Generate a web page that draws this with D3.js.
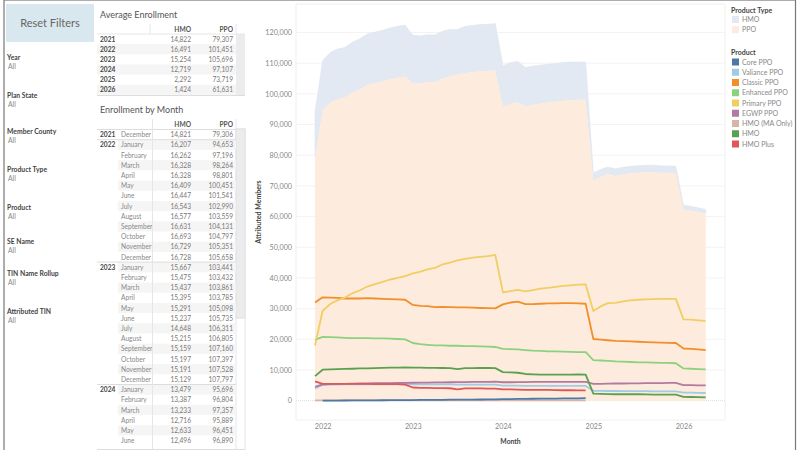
<!DOCTYPE html>
<html>
<head>
<meta charset="utf-8">
<script src="https://cdn.jsdelivr.net/npm/d3@7"></script>
<style>
  html, body { margin: 0; padding: 0; background: #fff; overflow: hidden; }
  text { font-family: Lato, "Open Sans", sans-serif; }
</style>
</head>
<body>
<svg id="chart" width="800" height="450"></svg>
<script>
// values
var months = [
  "2021-12",
  "2022-01","2022-02","2022-03","2022-04","2022-05","2022-06","2022-07","2022-08","2022-09","2022-10","2022-11","2022-12",
  "2023-01","2023-02","2023-03","2023-04","2023-05","2023-06","2023-07","2023-08","2023-09","2023-10","2023-11","2023-12",
  "2024-01","2024-02","2024-03","2024-04","2024-05","2024-06","2024-07","2024-08","2024-09","2024-10","2024-11","2024-12",
  "2025-01","2025-02","2025-03","2025-04","2025-05","2025-06","2025-07","2025-08","2025-09","2025-10","2025-11","2025-12",
  "2026-01","2026-02","2026-03","2026-04"
];
var hmoTotal = [
  14821,
  16207,16262,16328,16328,16409,16447,16543,16577,16631,16693,16729,16728,
  15667,15475,15437,15395,15291,15237,14648,15215,15159,15197,15191,15129,
  13479,13387,13233,12716,12633,12496,12450,12430,12400,12380,12360,12350,
  2500,2400,2300,2300,2300,2280,2270,2250,2250,2240,2230,2220,
  1500,1450,1400,1350
];
var ppoTotal = [
  79306,
  94653,97196,98264,98801,100451,101541,102990,103559,104131,104797,105351,105658,
  103441,103432,103861,103785,105098,105735,106311,106805,107160,107397,107528,107797,
  95696,96804,97357,95889,96451,96890,97200,97500,97800,98000,98050,98050,
  71730,73000,73850,73270,73800,74100,74300,74500,74500,74300,74300,74200,
  62200,61900,61500,61000
];
var corePpo = [
  null,
  0,20,40,60,70,90,100,120,130,150,170,190,
  210,230,250,270,290,310,330,350,370,390,410,430,
  500,530,560,590,620,650,680,700,730,750,780,800
];
var valiancePpo = [
  4000,
  5100,5200,5250,5300,5300,5300,5350,5350,5350,5350,5350,5350,
  5300,5300,5300,5300,5300,5300,5250,5250,5250,5250,5200,5200,
  4900,4900,4900,4850,4850,4850,4850,4850,4800,4800,4800,4800,
  3200,3200,3150,3150,3100,3100,3100,3100,3050,3050,3000,3000,
  2600,2600,2550,2500
];
var classicPpo = [
  32000,
  33700,33600,33500,33300,33300,33300,33400,33300,33200,33100,33000,32900,
  31200,30900,30800,30500,30600,30500,30400,30400,30300,30200,30150,30100,
  31400,32000,32300,31500,31500,31600,31700,31700,31800,31800,31700,31600,
  20100,19900,19700,19500,19400,19300,19200,19100,19000,18900,18850,18800,
  17000,16900,16700,16500
];
var enhancedPpo = [
  19800,
  20800,20700,20600,20500,20400,20400,20400,20300,20300,20200,20100,20000,
  18800,18400,18200,18000,18000,17900,17900,17800,17800,17700,17600,17500,
  16900,16800,16700,16500,16300,16200,16100,16050,16000,15900,15850,15800,
  13200,13100,13000,12800,12700,12600,12500,12500,12400,12300,12300,12200,
  10500,10400,10300,10200
];
var primaryPpo = [
  18000,
  29300,31500,32700,33600,35000,36000,37200,38000,38700,39500,40000,40600,
  41500,42100,42800,43300,44400,45000,45700,46200,46600,46900,47100,47500,
  35300,35700,36100,35600,36000,36500,36800,37100,37400,37600,37800,37900,
  29200,30800,31800,31900,32400,32700,32900,33000,33100,33200,33200,33200,
  26500,26400,26200,26000
];
var egwpPpo = [
  4500,
  5300,5400,5450,5500,5550,5600,5650,5700,5750,5750,5800,5800,
  5850,5900,5900,5950,5950,6000,6050,6050,6100,6150,6150,6200,
  6000,6000,6050,6050,6100,6100,6150,6150,6100,6100,6100,6100,
  5500,5500,5550,5600,5600,5650,5650,5700,5700,5750,5800,5800,
  5100,5050,5000,5000
];
var hmoMaOnly = [
  100,
  100,100,100,100,100,100,100,100,100,100,100,100,
  100,100,100,100,100,100,100,100,100,100,100,100,
  100,100,100,100,100,100,100,100,100,100,100,100
];
var hmoBase = [
  8000,
  10100,10200,10300,10350,10400,10500,10550,10600,10700,10750,10800,10850,
  10800,10750,10700,10700,10650,10600,10300,10600,10600,10650,10650,10600,
  9300,9200,9100,8700,8600,8500,8500,8500,8500,8500,8600,8500,
  2300,2200,2150,2100,2100,2100,2100,2050,2000,2000,2000,2000,
  1250,1200,1150,1100
];
var hmoPlus = [
  6300,
  5500,5500,5500,5500,5450,5450,5450,5400,5400,5400,5400,5200,
  4300,4200,4150,4100,4100,4050,3700,4000,4000,4000,3950,3950,
  3700,3650,3600,3550,3550,3500,3500,3450,3400,3400,3350,3350
];

var avgYears = ["2021","2022","2023","2024","2025","2026"];
var avgHmo = [14822,16491,15254,12719,2292,1424];
var avgPpo = [79307,101451,105696,97107,73719,61631];

var filterNames = ["Year","Plan State","Member County","Product Type","Product","SE Name","TIN Name Rollup","Attributed TIN"];
var filterTops = [57,95,131,169,207,241,273,311];

var typeNames = ["HMO","PPO"];
var typeColors = ["#e2e9f2","#fdecdd"];
var productNames = ["Core PPO","Valiance PPO","Classic PPO","Enhanced PPO","Primary PPO","EGWP PPO","HMO (MA Only)","HMO","HMO Plus"];
var productColors = ["#4e79a7","#a0cbe8","#f28e2b","#8cd17d","#f1ce63","#b07aa1","#d7b5a6","#59a14f","#e15759"];
var productValues = [corePpo,valiancePpo,classicPpo,enhancedPpo,primaryPpo,egwpPpo,hmoMaOnly,hmoBase,hmoPlus];
// HMO (MA Only) sits under the Core PPO line
var drawOrder = [6,0,1,2,3,4,5,7,8];

var yTicks = [0,10000,20000,30000,40000,50000,60000,70000,80000,90000,100000,110000,120000];
var monthNames = ["January","February","March","April","May","June","July","August","September","October","November","December"];

var svg = d3.select("#chart");
var fmt = d3.format(",");
var parseMonth = d3.timeParse("%Y-%m");
var dates = months.map(parseMonth);

// outer frame
svg.append("rect").attr("x",4).attr("y",0).attr("width",791.5).attr("height",460)
  .attr("fill","none").attr("stroke","#777").attr("stroke-width",1.2);

// reset button
svg.append("rect").attr("x",6).attr("y",4).attr("width",88).attr("height",38).attr("fill","#d9e8ee");
svg.append("text").attr("x",50).attr("y",27).attr("text-anchor","middle")
  .attr("font-size",11).attr("fill","#666").text("Reset Filters");

// filters
filterNames.forEach(function(name, i) {
  svg.append("text").attr("x",7).attr("y",filterTops[i]+2.5).attr("font-size",6.8)
    .attr("font-weight",700).attr("fill","#444").text(name);
  svg.append("text").attr("x",8).attr("y",filterTops[i]+11.5).attr("font-size",6.8)
    .attr("fill","#888").text("All");
});

function tableHeader(headTop, divider) {
  svg.append("line").attr("x1",divider).attr("x2",divider).attr("y1",headTop).attr("y2",headTop+10)
    .attr("stroke","#e6e6e6");
  svg.append("line").attr("x1",236).attr("x2",236).attr("y1",headTop).attr("y2",headTop+10)
    .attr("stroke","#e6e6e6");
  svg.append("text").attr("x",191).attr("y",headTop+8).attr("text-anchor","end")
    .attr("font-size",6.6).attr("font-weight",700).attr("fill","#555").text("HMO");
  svg.append("text").attr("x",233).attr("y",headTop+8).attr("text-anchor","end")
    .attr("font-size",6.6).attr("font-weight",700).attr("fill","#555").text("PPO");
}

// average enrollment table
svg.append("text").attr("x",100).attr("y",17.5).attr("font-size",9).attr("fill","#555").text("Average Enrollment");
tableHeader(24, 150);
var avgRow = 10.15;
svg.append("rect").attr("x",236).attr("y",34).attr("width",9).attr("height",61).attr("fill","#ececec");
avgYears.forEach(function(yr, i) {
  var rowTop = 34 + i*avgRow;
  if (i % 2 == 1) {
    svg.append("rect").attr("x",97).attr("y",rowTop).attr("width",139).attr("height",avgRow).attr("fill","#f5f5f5");
  }
  svg.append("text").attr("x",100).attr("y",rowTop+7.6).attr("font-size",6.6).attr("font-weight",700).attr("fill","#444").text(yr);
  svg.append("text").attr("x",191).attr("y",rowTop+7.6).attr("text-anchor","end").attr("font-size",6.6).attr("fill","#777").text(fmt(avgHmo[i]));
  svg.append("text").attr("x",233).attr("y",rowTop+7.6).attr("text-anchor","end").attr("font-size",6.6).attr("fill","#777").text(fmt(avgPpo[i]));
});
svg.append("line").attr("x1",97).attr("x2",245).attr("y1",34).attr("y2",34).attr("stroke","#e6e6e6");
svg.append("line").attr("x1",97).attr("x2",245).attr("y1",95.5).attr("y2",95.5).attr("stroke","#ddd");

// enrollment by month table, first rows only, the rest is scrolled away
svg.append("text").attr("x",100).attr("y",112.5).attr("font-size",9).attr("fill","#555").text("Enrollment by Month");
tableHeader(119, 152.5);
var monthRow = 10.2;
var rowCount = 31;
svg.append("rect").attr("x",236).attr("y",129).attr("width",9).attr("height",321).attr("fill","#fff").attr("stroke","#e6e6e6");
svg.append("rect").attr("x",236).attr("y",129).attr("width",9).attr("height",189).attr("fill","#ececec").attr("stroke","#e0e0e0");
for (var i = 0; i < rowCount; i++) {
  var rowTop = 129.5 + i*monthRow;
  var d = dates[i];
  if (i % 2 == 1) {
    svg.append("rect").attr("x",118).attr("y",rowTop).attr("width",118).attr("height",monthRow).attr("fill","#f5f5f5");
  }
  if (d.getMonth() == 0 || i == 0) {
    svg.append("text").attr("x",100).attr("y",rowTop+7.6).attr("font-size",6.6).attr("font-weight",700).attr("fill","#444").text(d.getFullYear());
    svg.append("line").attr("x1",97).attr("x2",236).attr("y1",rowTop).attr("y2",rowTop).attr("stroke","#ddd");
  }
  svg.append("text").attr("x",121).attr("y",rowTop+7.6).attr("font-size",6.6).attr("fill","#888").text(monthNames[d.getMonth()]);
  svg.append("text").attr("x",191).attr("y",rowTop+7.6).attr("text-anchor","end").attr("font-size",6.6).attr("fill","#777").text(fmt(hmoTotal[i]));
  svg.append("text").attr("x",233).attr("y",rowTop+7.6).attr("text-anchor","end").attr("font-size",6.6).attr("fill","#777").text(fmt(ppoTotal[i]));
}
svg.append("line").attr("x1",152.5).attr("x2",152.5).attr("y1",129).attr("y2",450).attr("stroke","#e6e6e6");
svg.append("line").attr("x1",97).attr("x2",245).attr("y1",449.5).attr("y2",449.5).attr("stroke","#ddd");

// main chart
var x = d3.scaleTime().domain([dates[0], dates[dates.length-1]]).range([315, 705.7]);
var y = d3.scaleLinear().domain([-6300, 129300]).range([420, 4]);

svg.append("rect").attr("x",296).attr("y",4).attr("width",429).attr("height",416)
  .attr("fill","#fff").attr("stroke","#f0f0f0");

svg.append("g").selectAll("line").data(yTicks.filter(function(t){return t > 0})).enter().append("line")
  .attr("x1",296).attr("x2",725)
  .attr("y1",function(t){return y(t)}).attr("y2",function(t){return y(t)})
  .attr("stroke","#f3f3f3");
svg.append("line").attr("x1",296).attr("x2",725).attr("y1",y(0)).attr("y2",y(0))
  .attr("stroke","#ddd").attr("stroke-dasharray","1,1");

var stackTop = dates.map(function(dt, i) {
  return {date: dt, ppo: ppoTotal[i], total: ppoTotal[i] + hmoTotal[i]};
});
svg.append("path").datum(stackTop).attr("fill",typeColors[0]).attr("stroke","#dde3ec").attr("stroke-width",0.5)
  .attr("d", d3.area().x(function(p){return x(p.date)}).y0(function(p){return y(p.ppo)}).y1(function(p){return y(p.total)}));
svg.append("path").datum(stackTop).attr("fill",typeColors[1])
  .attr("d", d3.area().x(function(p){return x(p.date)}).y0(y(0)).y1(function(p){return y(p.ppo)}));

var line = d3.line()
  .defined(function(p){return p.v !== null})
  .x(function(p){return x(p.date)})
  .y(function(p){return y(p.v)});

drawOrder.forEach(function(k) {
  var pts = productValues[k].map(function(v, i){ return {date: dates[i], v: v}; });
  svg.append("path").datum(pts).attr("fill","none")
    .attr("stroke",productColors[k]).attr("stroke-width",1.8).attr("stroke-linejoin","round")
    .attr("d", line);
});

// axes
var yAxis = d3.axisLeft(y).tickValues(yTicks).tickSize(0).tickPadding(4).tickFormat(fmt);
var gy = svg.append("g").attr("transform","translate(296,0)").call(yAxis);
gy.select(".domain").remove();
gy.selectAll("text").attr("font-size",7.2).attr("fill","#888").style("font-family","Lato, sans-serif");

var xTicks = ["2022-01","2023-01","2024-01","2025-01","2026-01"].map(parseMonth);
var xAxis = d3.axisBottom(x).tickValues(xTicks).tickSize(0).tickPadding(4).tickFormat(d3.timeFormat("%Y"));
var gx = svg.append("g").attr("transform","translate(0,420)").call(xAxis);
gx.select(".domain").remove();
gx.selectAll("text").attr("font-size",7.2).attr("fill","#888").style("font-family","Lato, sans-serif");

svg.append("text").attr("x",510.5).attr("y",443.5).attr("text-anchor","middle")
  .attr("font-size",6.8).attr("font-weight",700).attr("fill","#444").text("Month");
svg.append("text").attr("transform","translate(260.5,212) rotate(-90)").attr("text-anchor","middle")
  .attr("font-size",7).attr("font-weight",700).attr("fill","#444").text("Attributed Members");

// legends
function legend(title, titleY, names, colors, firstY, step) {
  svg.append("text").attr("x",731).attr("y",titleY).attr("font-size",7)
    .attr("font-weight",700).attr("fill","#444").text(title);
  names.forEach(function(n, i) {
    var cy = firstY + i*step;
    svg.append("rect").attr("x",732).attr("y",cy-3.5).attr("width",7).attr("height",7).attr("fill",colors[i]);
    svg.append("text").attr("x",742).attr("y",cy+2.5).attr("font-size",7).attr("fill","#888").text(n);
  });
}
legend("Product Type", 13, typeNames, typeColors, 19.5, 10.2);
legend("Product", 55, productNames, productColors, 62, 10.25);
</script>
</body>
</html>
